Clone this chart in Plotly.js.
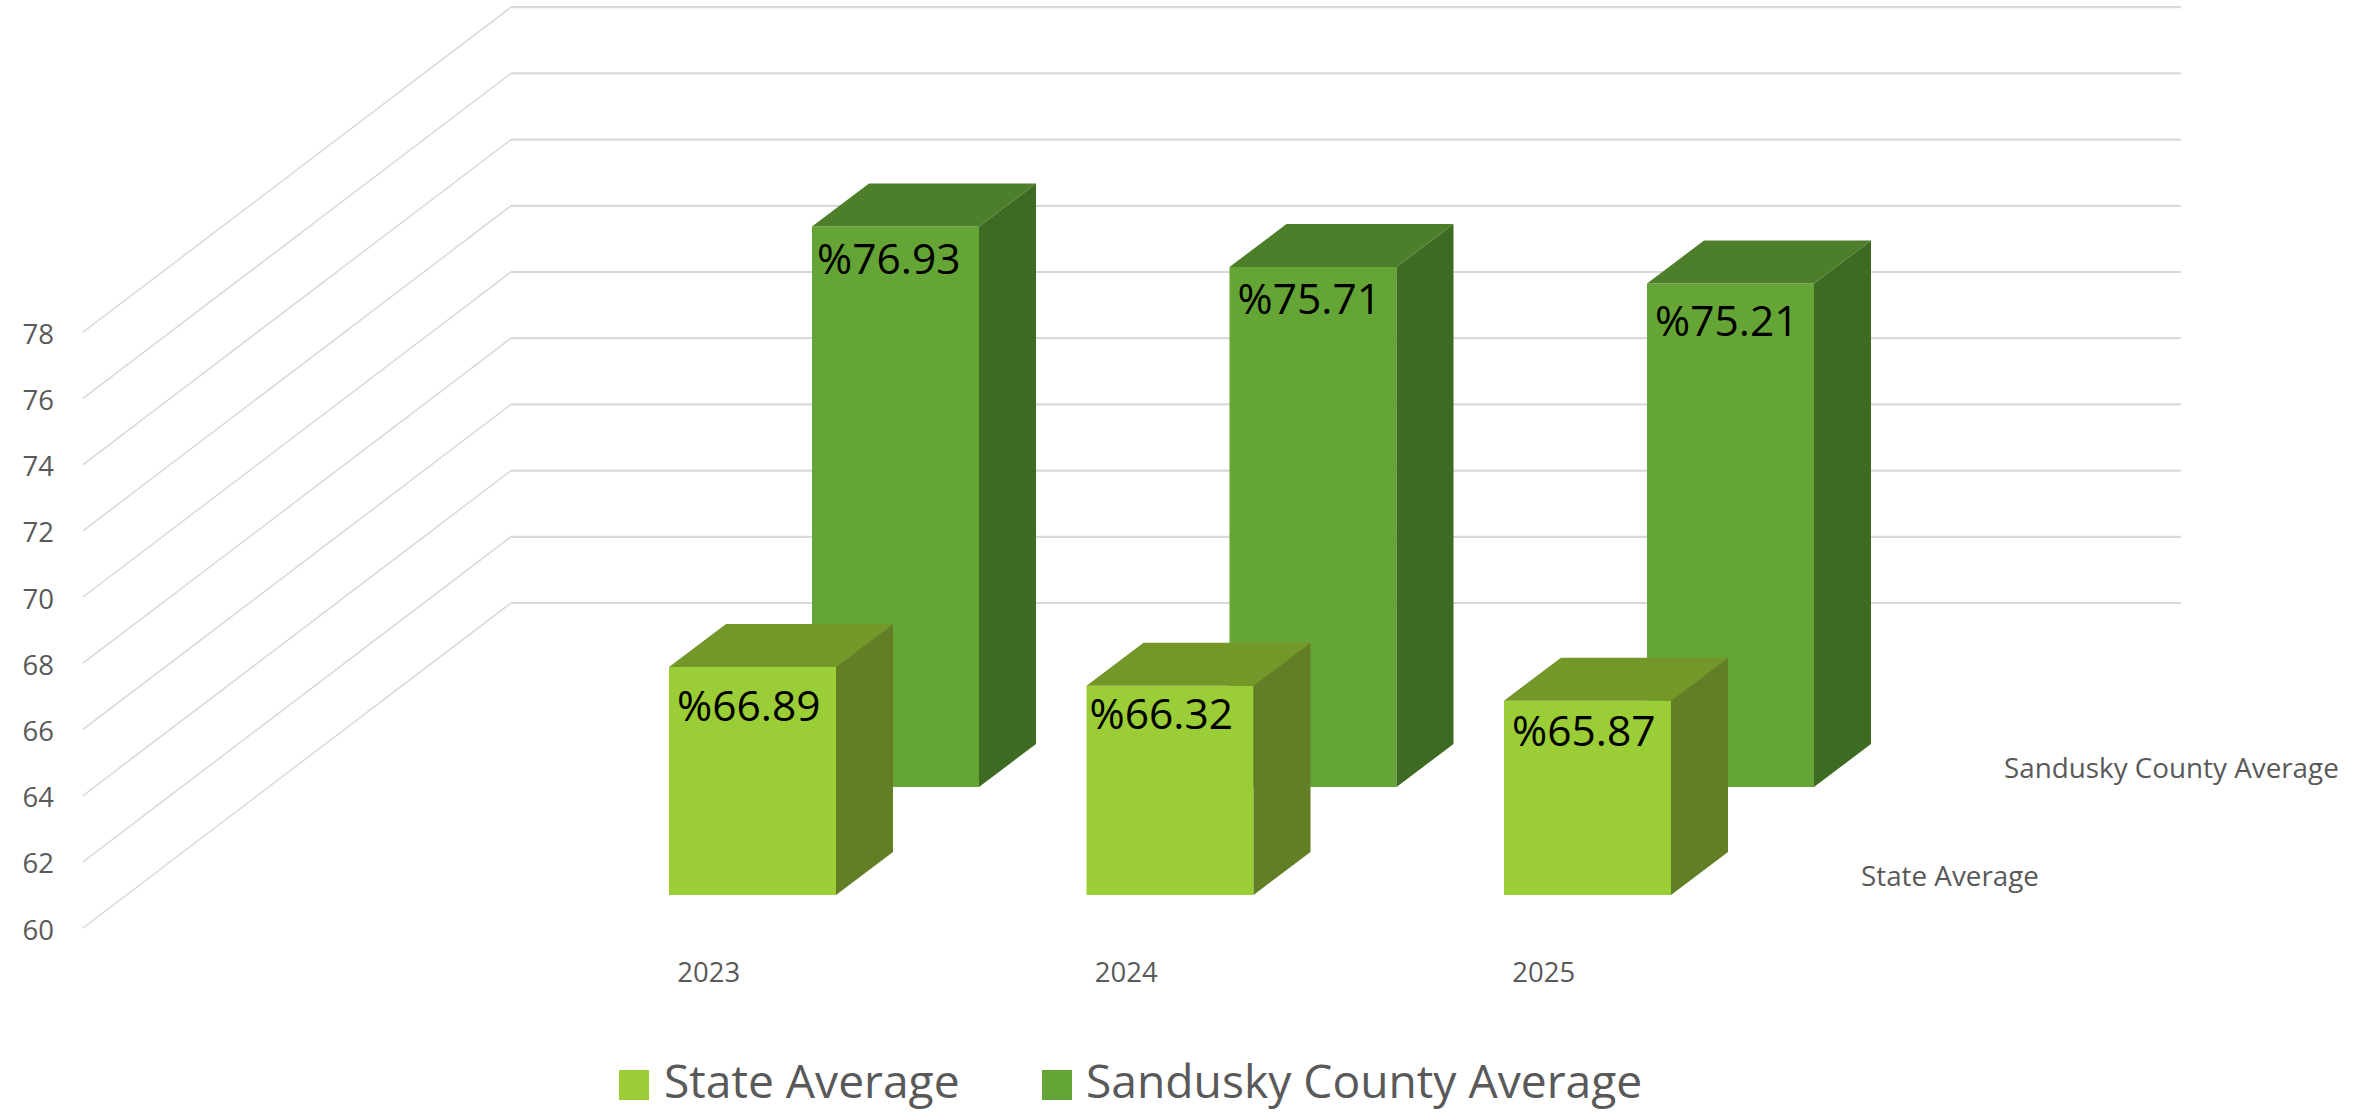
<!DOCTYPE html>
<html>
<head>
<meta charset="utf-8">
<script src="https://cdn.plot.ly/plotly-3.0.1.min.js"></script>
<style>html,body{margin:0;padding:0;background:#fff}#chart{width:2368px;height:1112px}</style>
</head>
<body>
<div id="chart"></div>
<script>
// ---- data ----
const years = ['2023', '2024', '2025'];
const stateName = 'State Average';
const countyName = 'Sandusky County Average';
const stateValues = [66.89, 66.32, 65.87];
const countyValues = [76.93, 75.71, 75.21];
const yTicks = [60, 62, 64, 66, 68, 70, 72, 74, 76, 78];

// ---- styling ----
const stateColors = {face: '#9ACD36', side: '#627F26', top: '#74972A'};
const countyColors = {face: '#65A535', side: '#3E6B22', top: '#4D7F2B'};
const FONT = '"Open Sans", sans-serif';
const GREY = '#595959';
const GRID = '#D9D9D9';

// ---- oblique projection, in axis units ----
const W = 2368, H = 1112, ML = 60, MB = 159;
const PXU = 417.5, PXV = 33.1, X0PX = 752.5, Y60PX = 928;   // px per category, px per value, origin
const pxX = p => (p - X0PX) / PXU;
const pxV = p => 60 + (Y60PX - p) / PXV;
const BAR_W = 167 / PXU;
const DEPTH_X = 57 / PXU, DEPTH_V = 43 / PXV;       // depth of one bar
const FRONT_V = 33 / PXV;                           // front row stands this far into the floor
const ROW_X = 143 / PXU, ROW_V = 108 / PXV;         // front row -> back row
const WALL_X = 428 / PXU, WALL_V = 325 / PXV;       // front of floor -> back wall
const WALL_LEFT = pxX(83), WALL_RIGHT = pxX(2181);
const BASE = 60;
const lift = row => FRONT_V + row * ROW_V;

function polys(values, row, kind) {
  const xs = [], ys = [];
  values.forEach((v, i) => {
    const l = i - BAR_W / 2 + row * ROW_X, r = l + BAR_W;
    const b = BASE + lift(row), t = v + lift(row);
    if (kind === 'side') {
      xs.push(r, r + DEPTH_X, r + DEPTH_X, r, r, null);
      ys.push(b, b + DEPTH_V, t + DEPTH_V, t, b, null);
    } else {
      xs.push(l, r, r + DEPTH_X, l + DEPTH_X, l, null);
      ys.push(t, t, t + DEPTH_V, t + DEPTH_V, t, null);
    }
  });
  return {x: xs, y: ys};
}
const poly = (values, row, kind, color) => Object.assign(polys(values, row, kind), {
  type: 'scatter', mode: 'lines', fill: 'toself', fillcolor: color,
  line: {width: 0, color: color}, hoverinfo: 'skip', showlegend: false
});
const bars = (name, values, row, color, legendId) => ({
  type: 'bar', name: name, legend: legendId,
  x: values.map((_, i) => i + row * ROW_X),
  y: values.map(v => v - BASE),
  base: values.map(() => BASE + lift(row)),
  width: BAR_W, marker: {color: color, line: {width: 0}}, hoverinfo: 'skip'
});
// hand-placed label offsets in the reference, px from the bar's top-left corner
const stateLabelDx = [8, 3, 8], stateLabelDy = [43, 33, 35];
const countyLabelDx = [5, 8, 8], countyLabelDy = [37, 36, 42];
const labels = (values, row, dx, dy) => ({
  type: 'scatter', mode: 'text', showlegend: false, hoverinfo: 'skip', cliponaxis: false,
  x: values.map((_, i) => i - BAR_W / 2 + row * ROW_X + dx[i] / PXU),
  y: values.map((v, i) => v + lift(row) - dy[i] / PXV),
  text: values.map(v => '%' + v.toFixed(2)),
  textposition: 'middle right',
  textfont: {family: FONT, size: 42.5, color: '#000000'}
});

const data = [
  bars(countyName, countyValues, 1, countyColors.face, 'legend2'),
  bars(stateName, stateValues, 0, stateColors.face, 'legend'),
  poly(countyValues, 1, 'side', countyColors.side),
  poly(countyValues, 1, 'top', countyColors.top),
  poly(stateValues, 0, 'side', stateColors.side),
  poly(stateValues, 0, 'top', stateColors.top),
  labels(countyValues, 1, countyLabelDx, countyLabelDy),
  labels(stateValues, 0, stateLabelDx, stateLabelDy)
];

// walls: gridlines behind the bars
const shapes = [];
yTicks.forEach(v => {
  shapes.push({type: 'line', layer: 'below', xref: 'x', yref: 'y',
    x0: WALL_LEFT, y0: v, x1: WALL_LEFT + WALL_X, y1: v + WALL_V,
    line: {color: GRID, width: 1.5}});
  shapes.push({type: 'line', layer: 'below', xref: 'x', yref: 'y',
    x0: WALL_LEFT + WALL_X, y0: v + WALL_V, x1: WALL_RIGHT, y1: v + WALL_V,
    line: {color: GRID, width: 2.2}});
});
// enlarged legend keys, sitting under the legend's own swatches
const pax = p => (p - ML) / (W - ML);
const pay = p => 1 - p / (H - MB);
[[619, stateColors.face], [1042, countyColors.face]].forEach(([px, c]) => {
  shapes.push({type: 'rect', layer: 'below', xref: 'paper', yref: 'paper',
    x0: pax(px), x1: pax(px + 30), y0: pay(1100), y1: pay(1070),
    fillcolor: c, line: {width: 0}});
});
const legendStyle = px => ({
  orientation: 'h', x: pax(px), y: pay(1080), xanchor: 'left', yanchor: 'middle',
  font: {family: FONT, size: 46.2, color: GREY}, bgcolor: 'rgba(0,0,0,0)', itemwidth: 50
});

const layout = {
  width: W, height: H,
  margin: {l: ML, r: 0, t: 0, b: MB, pad: 0, autoexpand: false},
  paper_bgcolor: '#ffffff', plot_bgcolor: 'rgba(0,0,0,0)',
  barmode: 'overlay',
  font: {family: FONT, color: GREY},
  xaxis: {
    range: [pxX(ML), pxX(W)], showgrid: false, zeroline: false, showline: false, fixedrange: true,
    tickmode: 'array', tickvals: years.map((_, i) => i - 0.105), ticktext: years,
    ticks: '', tickfont: {family: FONT, size: 27.5, color: GREY}
  },
  yaxis: {
    range: [pxV(H - MB), pxV(0)], showgrid: false, zeroline: false, showline: false, fixedrange: true,
    tickmode: 'array', tickvals: yTicks, ticktext: yTicks.map(String),
    ticks: '', ticklabelstandoff: 5, ticklabelshift: 2, tickfont: {family: FONT, size: 27.5, color: GREY}
  },
  showlegend: true,
  legend: legendStyle(604),
  legend2: legendStyle(1026),
  shapes: shapes,
  annotations: [
    {xref: 'x', yref: 'y', x: pxX(2002), y: pxV(767), xanchor: 'left', yanchor: 'middle', showarrow: false,
     text: countyName, font: {family: FONT, size: 27.8, color: GREY}},
    {xref: 'x', yref: 'y', x: pxX(1859), y: pxV(875), xanchor: 'left', yanchor: 'middle', showarrow: false,
     text: stateName, font: {family: FONT, size: 27.8, color: GREY}}
  ]
};
Plotly.newPlot('chart', data, layout, {displayModeBar: false, staticPlot: true});
</script>
</body>
</html>
